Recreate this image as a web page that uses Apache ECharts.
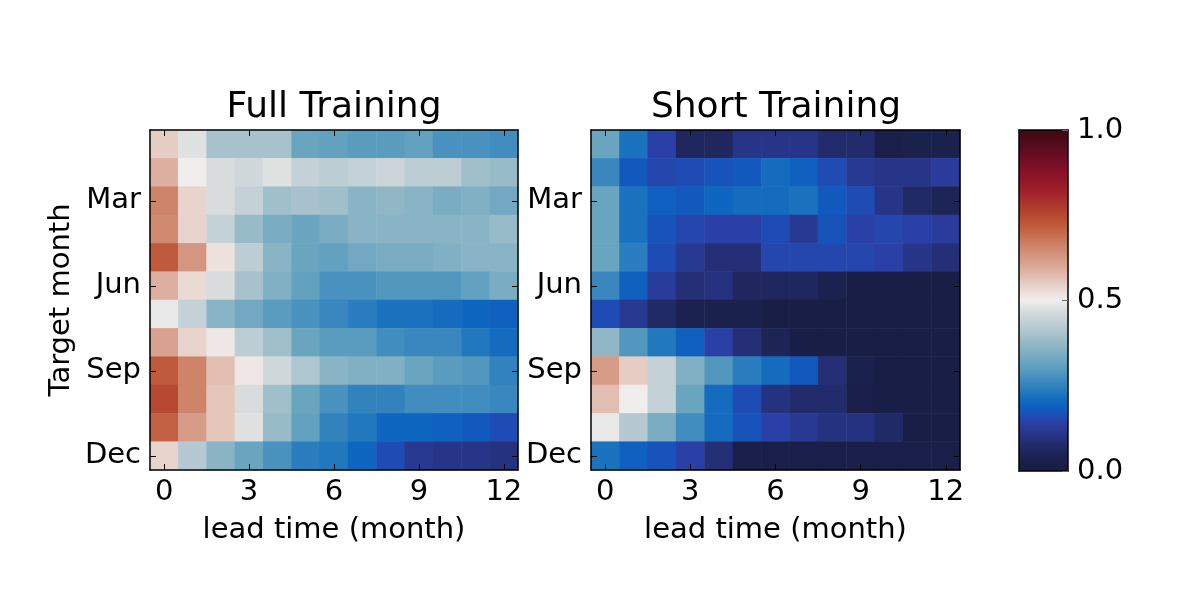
<!DOCTYPE html>
<html><head><meta charset="utf-8">
<script src="https://cdn.jsdelivr.net/npm/echarts@6/dist/echarts.min.js"></script>
<style>html,body{margin:0;padding:0;background:#fff}#c{width:1200px;height:600px}</style>
</head><body><div id="c"></div>
<script>
const leadTimes = ['0','1','2','3','4','5','6','7','8','9','10','11','12'];
const targetMonths = ['Jan','Feb','Mar','Apr','May','Jun','Jul','Aug','Sep','Oct','Nov','Dec'];
const panelTitles = ['Full Training', 'Short Training'];
const colorbarTicks = [0, 0.5, 1];

// rows: target month Jan..Dec, columns: lead time 0..12
const fullTraining = [
  [0.55,0.48,0.40,0.40,0.40,0.32,0.31,0.30,0.30,0.31,0.28,0.28,0.27],
  [0.59,0.50,0.47,0.46,0.48,0.44,0.43,0.44,0.45,0.43,0.43,0.39,0.38],
  [0.66,0.54,0.47,0.44,0.39,0.40,0.39,0.36,0.37,0.36,0.34,0.35,0.33],
  [0.65,0.54,0.44,0.38,0.34,0.32,0.34,0.36,0.36,0.36,0.36,0.36,0.38],
  [0.72,0.63,0.52,0.43,0.36,0.32,0.31,0.33,0.34,0.34,0.35,0.36,0.36],
  [0.59,0.53,0.47,0.40,0.35,0.31,0.28,0.28,0.29,0.29,0.29,0.31,0.34],
  [0.49,0.44,0.36,0.33,0.30,0.28,0.26,0.24,0.22,0.22,0.21,0.20,0.19],
  [0.61,0.54,0.51,0.43,0.39,0.32,0.30,0.30,0.27,0.26,0.26,0.23,0.21],
  [0.72,0.66,0.57,0.51,0.46,0.41,0.36,0.35,0.35,0.32,0.30,0.29,0.25],
  [0.75,0.66,0.56,0.47,0.39,0.32,0.28,0.25,0.25,0.27,0.27,0.27,0.26],
  [0.71,0.62,0.56,0.48,0.38,0.31,0.25,0.23,0.20,0.20,0.19,0.18,0.16],
  [0.54,0.42,0.36,0.32,0.28,0.24,0.23,0.20,0.16,0.12,0.11,0.11,0.10]
];
const shortTraining = [
  [0.32,0.22,0.14,0.06,0.06,0.11,0.11,0.11,0.08,0.08,0.02,0.03,0.03],
  [0.26,0.18,0.15,0.16,0.17,0.18,0.21,0.19,0.16,0.12,0.11,0.11,0.13],
  [0.32,0.22,0.19,0.18,0.20,0.21,0.21,0.22,0.18,0.16,0.11,0.07,0.05],
  [0.32,0.22,0.17,0.15,0.14,0.14,0.16,0.12,0.17,0.14,0.15,0.14,0.13],
  [0.32,0.24,0.16,0.12,0.09,0.09,0.15,0.15,0.15,0.15,0.14,0.11,0.09],
  [0.26,0.19,0.13,0.09,0.10,0.06,0.06,0.06,0.04,0.01,0.01,0.01,0.01],
  [0.16,0.12,0.07,0.04,0.03,0.03,0.01,0.01,0.01,0.01,0.01,0.01,0.01],
  [0.37,0.29,0.23,0.19,0.14,0.09,0.05,0.01,0.01,0.01,0.01,0.01,0.01],
  [0.62,0.55,0.44,0.35,0.29,0.24,0.21,0.18,0.09,0.03,0.01,0.01,0.01],
  [0.57,0.50,0.44,0.32,0.21,0.16,0.10,0.08,0.08,0.02,0.01,0.01,0.01],
  [0.49,0.42,0.34,0.27,0.21,0.17,0.14,0.12,0.10,0.10,0.07,0.01,0.01],
  [0.22,0.19,0.17,0.14,0.09,0.02,0.02,0.02,0.02,0.02,0.02,0.02,0.02]
];

// diverging colormap (balance-like) stops
const cmapStops = [
  [0.00,'#181c43'],[0.04,'#1b2250'],[0.08,'#222c6c'],[0.11,'#273588'],
  [0.14,'#2a40a6'],[0.16,'#1e4cb4'],[0.18,'#1259be'],[0.20,'#0e66c0'],
  [0.23,'#2278bd'],[0.26,'#3a87bf'],[0.30,'#5a9dbe'],[0.34,'#7aacc2'],
  [0.38,'#98bbc8'],[0.43,'#bdcdd4'],[0.47,'#d8dcdd'],[0.50,'#f0eeed'],
  [0.55,'#e6cdc4'],[0.60,'#dba898'],[0.66,'#cd8468'],[0.72,'#c05a3c'],
  [0.76,'#b4422d'],[0.82,'#a0202a'],[0.88,'#85112a'],[0.94,'#5e0c22'],
  [1.00,'#3c0912']
];
function hexRgb(h){return [1,3,5].map(i=>parseInt(h.substr(i,2),16));}
function buildColors(n){
  const out=[];
  for(let i=0;i<n;i++){
    const t=i/(n-1);
    let k=0; while(k<cmapStops.length-2 && t>cmapStops[k+1][0]) k++;
    const [t0,c0]=cmapStops[k],[t1,c1]=cmapStops[k+1];
    const f=(t-t0)/(t1-t0); const a=hexRgb(c0), b=hexRgb(c1);
    const c=a.map((v,j)=>Math.round(v+(b[j]-v)*f));
    out.push('rgb('+c.join(',')+')');
  }
  return out;
}
function toCells(m){const out=[];m.forEach((row,y)=>row.forEach((v,x)=>out.push([x,y,v])));return out;}

const FONT='DejaVu Sans';
const FS=29;
const panels=[{left:150,width:368,cx:329},{left:591,width:369,cx:771}];
const grid=[], xAxis=[], yAxis=[], series=[], title=[];
const lineStyle={color:'#000',width:1.5};
const tickShow=(i)=>i%3===0;
const ytickShow=(i)=>i%3===2;
panels.forEach((p,k)=>{
  grid.push({left:p.left,top:130,width:p.width,height:340,containLabel:false});
  title.push({text:panelTitles[k],left:p.cx,top:85,textAlign:'center',
    textStyle:{fontFamily:FONT,fontSize:36,fontWeight:'normal',color:'#000'}});
  xAxis.push({type:'category',data:leadTimes,gridIndex:k,position:'bottom',z:10,
    axisLine:{show:true,onZero:false,lineStyle},
    axisTick:{show:true,inside:true,length:6,alignWithLabel:true,interval:tickShow,lineStyle:{color:'#000',width:1}},
    axisLabel:{show:true,interval:tickShow,margin:8,fontFamily:FONT,fontSize:FS,color:'#000'},
    name:'lead time (month)',nameLocation:'middle',nameGap:46,
    nameTextStyle:{fontFamily:FONT,fontSize:FS,color:'#000'},splitLine:{show:false}});
  xAxis.push({type:'category',data:leadTimes,gridIndex:k,position:'top',z:10,
    axisLine:{show:true,onZero:false,lineStyle},
    axisTick:{show:true,inside:true,length:6,alignWithLabel:true,interval:tickShow,lineStyle:{color:'#000',width:1}},
    axisLabel:{show:false},splitLine:{show:false}});
  yAxis.push({type:'category',data:targetMonths,gridIndex:k,inverse:true,position:'left',z:10,
    axisLine:{show:true,onZero:false,lineStyle},
    axisTick:{show:true,inside:true,length:6,alignWithLabel:true,interval:ytickShow,lineStyle:{color:'#000',width:1}},
    axisLabel:{show:true,interval:ytickShow,margin:9,fontFamily:FONT,fontSize:FS,color:'#000'},
    name:k===0?'Target month':'',nameLocation:'middle',nameGap:74,nameRotate:90,
    nameTextStyle:{fontFamily:FONT,fontSize:FS,color:'#000'},splitLine:{show:false}});
  yAxis.push({type:'category',data:targetMonths,gridIndex:k,inverse:true,position:'right',z:10,
    axisLine:{show:true,onZero:false,lineStyle},
    axisTick:{show:true,inside:true,length:6,alignWithLabel:true,interval:ytickShow,lineStyle:{color:'#000',width:1}},
    axisLabel:{show:false},splitLine:{show:false}});
  series.push({type:'heatmap',xAxisIndex:2*k,yAxisIndex:2*k,
    data:toCells(k===0?fullTraining:shortTraining),
    itemStyle:{borderWidth:0},emphasis:{disabled:true},progressive:0});
});
// colorbar frame + labels
grid.push({left:1019,top:130,width:49,height:341});
xAxis.push({type:'value',gridIndex:2,min:0,max:1,position:'bottom',z:10,axisLine:{show:true,onZero:false,lineStyle},
  axisTick:{show:false},axisLabel:{show:false},splitLine:{show:false}});
xAxis.push({type:'value',gridIndex:2,min:0,max:1,position:'top',z:10,axisLine:{show:true,onZero:false,lineStyle},
  axisTick:{show:false},axisLabel:{show:false},splitLine:{show:false}});
yAxis.push({type:'value',gridIndex:2,min:0,max:1,position:'left',z:10,axisLine:{show:true,onZero:false,lineStyle},
  axisTick:{show:false},axisLabel:{show:false},splitLine:{show:false}});
yAxis.push({type:'value',gridIndex:2,min:colorbarTicks[0],max:colorbarTicks[2],interval:colorbarTicks[1],position:'right',z:10,
  axisLine:{show:true,onZero:false,lineStyle},
  axisTick:{show:true,inside:true,length:6,lineStyle:{color:'#666',width:1}},
  axisLabel:{show:true,margin:9,fontFamily:FONT,fontSize:FS,color:'#000',formatter:v=>v.toFixed(1)},
  splitLine:{show:false}});

const chart=echarts.init(document.getElementById('c'),null,{renderer:'canvas'});
chart.setOption({
  animation:false,
  backgroundColor:'#fff',
  title, grid, xAxis, yAxis, series,
  visualMap:{type:'continuous',min:0,max:1,seriesIndex:[0,1],calculable:false,show:true,hoverLink:false,
    orient:'vertical',left:1019,top:130,itemWidth:49,itemHeight:341,padding:0,
    inRange:{color:buildColors(101)},textStyle:{color:'transparent'}}
});
</script></body></html>
